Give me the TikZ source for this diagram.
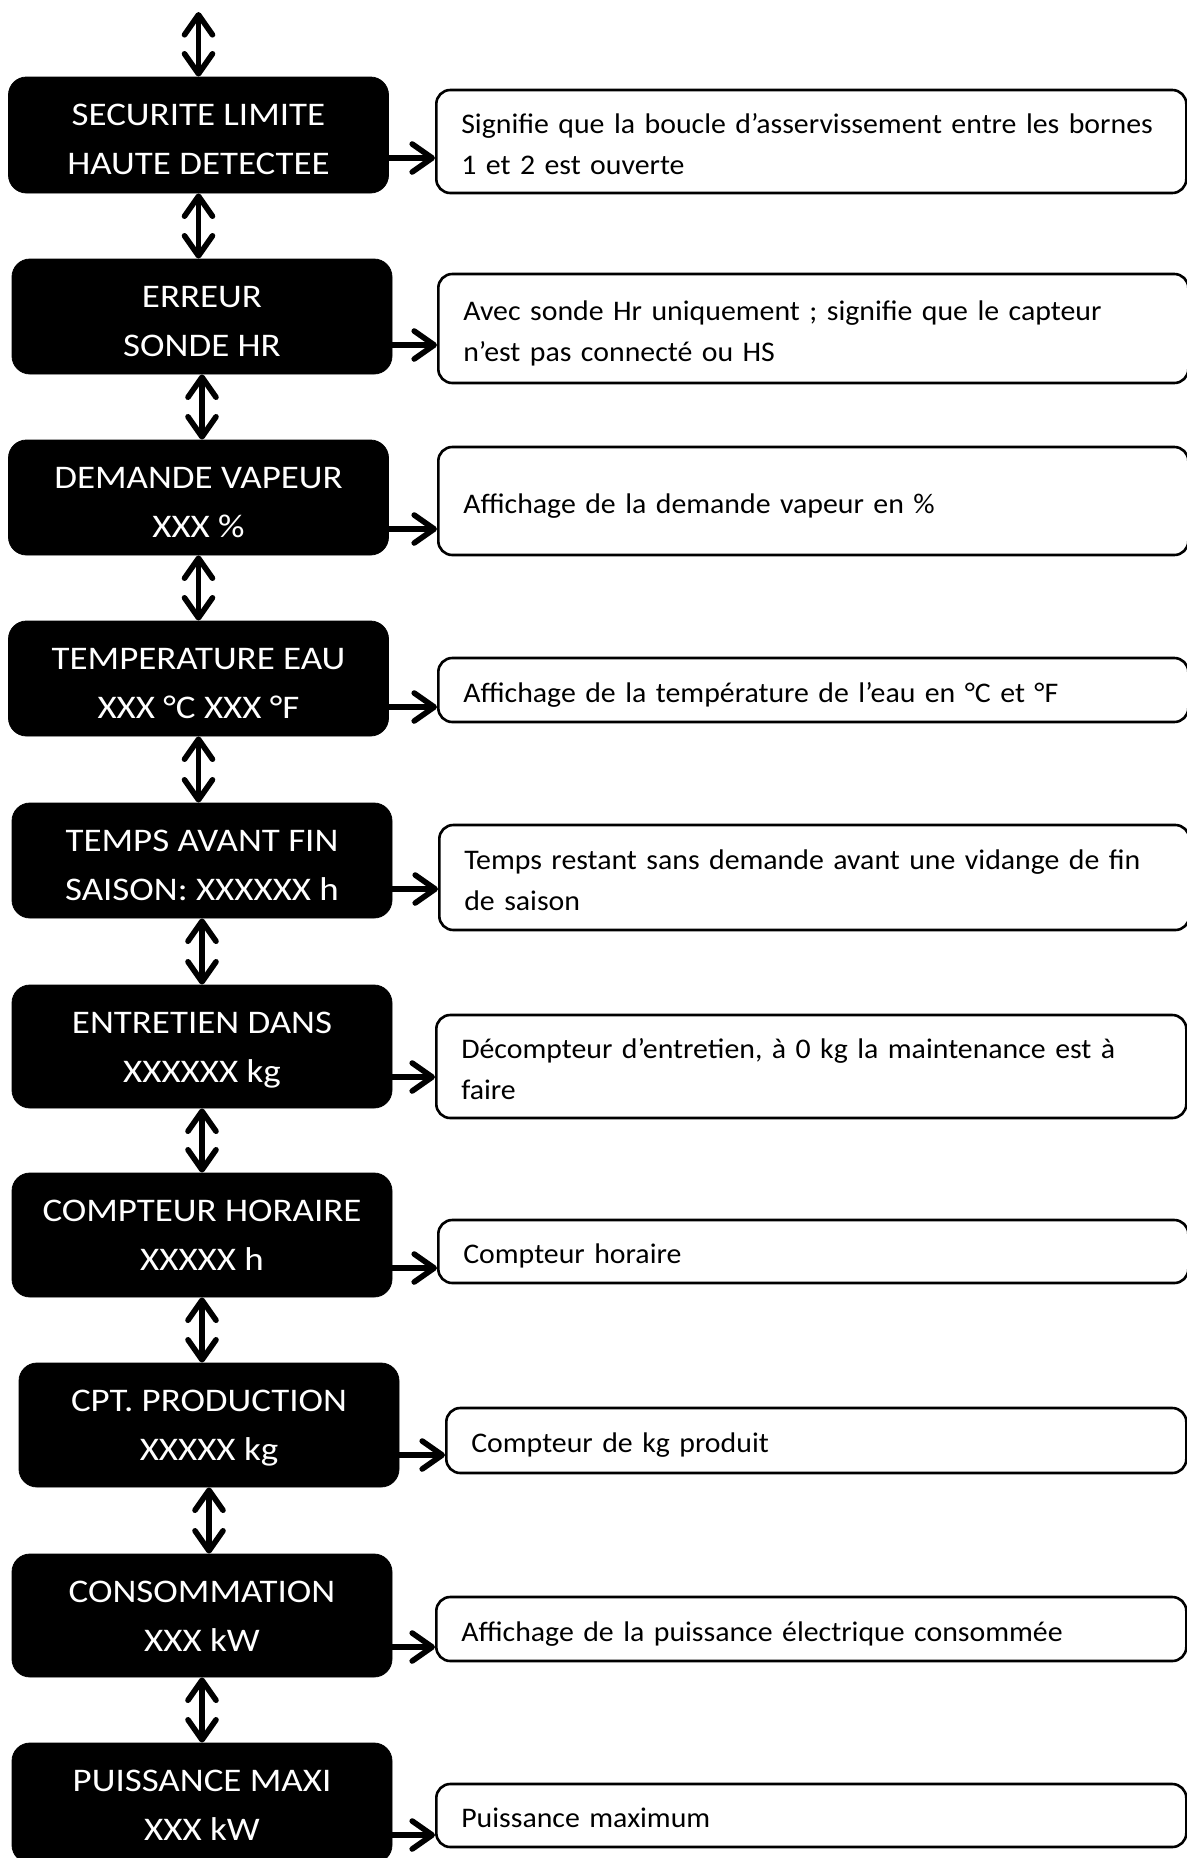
\documentclass[tikz,border=0pt]{standalone}
\usepackage{fontspec}
\setmainfont{Carlito}
\newfontfamily\dispfont{Carlito}[FakeStretch=1.12]
\newfontfamily\infofont{Carlito}[FakeStretch=1.05]
\usetikzlibrary{arrows.meta}

\begin{document}
\begin{tikzpicture}[x=0.5pt, y=-0.5pt,
  >={Straight Barb[round,length=10pt,width=14pt]},
  dispbox/.style={draw=black, fill=black, text=white, rounded corners=9pt, align=center,
                  minimum width=190pt, minimum height=#1, inner sep=0pt,
                  font=\dispfont\fontsize{16.5pt}{24.5pt}\selectfont,
                  execute at begin node={\rule{0pt}{\dimexpr102pt-#1\relax}},
                  execute at end node={\rule[-5pt]{0pt}{0pt}}},
  infobox/.style={draw, line width=1.3pt, rounded corners=7pt, anchor=west, align=left,
                  text width=350pt, inner xsep=12.5pt, inner ysep=0pt,
                  font=\infofont\fontsize{14.2pt}{20.5pt}\selectfont,
                  execute at begin node={\rule{0pt}{16pt}},
                  execute at end node={\rule[-3.6pt]{0pt}{0pt}}},
  link/.style={->, line width=2.8pt},
  scroll/.style={<->, line width=2.8pt}
]
\useasboundingbox (0,0) rectangle (1187,1858);

\node[dispbox=58pt] (b1) at (198.5,135) {SECURITE LIMITE\\HAUTE DETECTEE};
\node[dispbox=57.5pt] (b2) at (202,316.5) {ERREUR\\SONDE HR};
\node[dispbox=57.5pt] (b3) at (198.5,497.5) {DEMANDE VAPEUR\\XXX \%};
\node[dispbox=57.5pt] (b4) at (198.5,678.5) {TEMPERATURE EAU\\XXX °C XXX °F};
\node[dispbox=57.5pt] (b5) at (202,860.5) {TEMPS AVANT FIN\\SAISON: XXXXXX h};
\node[dispbox=61.5pt] (b6) at (202,1046.5) {ENTRETIEN DANS\\XXXXXX kg};
\node[dispbox=62pt] (b7) at (202,1235) {COMPTEUR HORAIRE\\XXXXX h};
\node[dispbox=62pt] (b8) at (209,1425) {CPT. PRODUCTION\\XXXXX kg};
\node[dispbox=61.5pt] (b9) at (202,1615.5) {CONSOMMATION\\XXX kW};
\node[dispbox=60pt] (b10) at (202,1803) {PUISSANCE MAXI\\XXX kW};

\node[infobox, minimum height=51.5pt] (w1) at (435,141.5)
  {Signifie que la boucle d’asservissement entre les bornes\\1 et 2 est ouverte};
\node[infobox, minimum height=54.5pt] (w2) at (437,328.5)
  {Avec sonde Hr uniquement ; signifie que le capteur\\n’est pas connecté ou HS};
\node[infobox, minimum height=54pt] (w3) at (437,501) {Affichage de la demande vapeur en \%};
\node[infobox, minimum height=32pt] (w4) at (437,690) {Affichage de la température de l’eau en °C et °F};
\node[infobox, minimum height=52.5pt] (w5) at (438,877.5)
  {Temps restant sans demande avant une vidange de fin\\de saison};
\node[infobox, minimum height=51.5pt] (w6) at (435,1066.5)
  {Décompteur d’entretien, à 0 kg la maintenance est à\\faire};
\node[infobox, minimum height=31.5pt] (w7) at (437,1251.5) {Compteur horaire};
\node[infobox, minimum height=32.5pt, text width=345pt] (w8) at (445,1440.5) {Compteur de kg produit};
\node[infobox, minimum height=32pt] (w9) at (435,1629) {Affichage de la puissance électrique consommée};
\node[infobox, minimum height=31.5pt] (w10) at (435,1815.5) {Puissance maximum};

\coordinate (top) at (198.5,12);
\draw[scroll] (top) -- (b1.north);
\foreach \i/\j in {1/2,2/3,3/4,4/5,5/6,6/7,7/8,8/9,9/10}
  \draw[scroll] (b\i.south) -- (b\i.south |- b\j.north);

\foreach \i/\ay in {1/158,2/345,3/529,4/707,5/889,6/1077,7/1268,8/1455,9/1647,10/1835}{
  \coordinate (a\i) at (0,\ay);
  \draw[link] (b\i.east |- a\i) -- (w\i.west |- a\i);
}
\end{tikzpicture}
\end{document}
